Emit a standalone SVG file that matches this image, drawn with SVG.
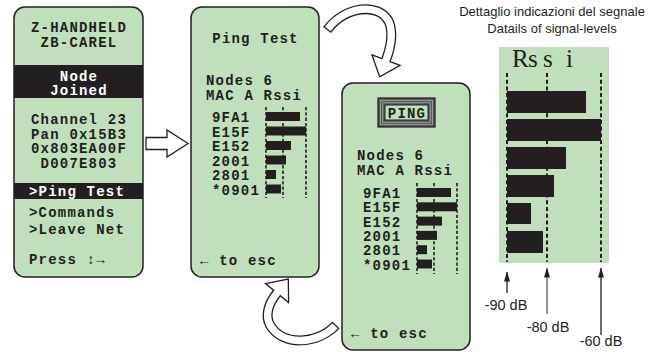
<svg xmlns="http://www.w3.org/2000/svg" width="667" height="352" viewBox="0 0 667 352">
<style>
.panel{fill:#c0e0bc;stroke:#231f20;stroke-width:1.5}
.m{font-family:"Liberation Mono","Courier New",monospace;font-weight:bold;font-size:14px;letter-spacing:1.2px;fill:#231f20}
.w{fill:#fff}
.c{text-anchor:middle}
.blk{fill:#231f20}
.dash{stroke:#231f20;stroke-width:1.6;stroke-dasharray:3.3 2;fill:none}
.dashL{stroke:#231f20;stroke-width:2;stroke-dasharray:4 2.7;fill:none}
.s{font-family:"Liberation Sans",Arial,sans-serif;fill:#231f20;text-anchor:middle}
.hollow{fill:#fff;stroke:#231f20;stroke-width:1.3;stroke-linejoin:miter}
.bandO{fill:none;stroke:#231f20;stroke-width:10}
.bandI{fill:none;stroke:#fff;stroke-width:7.4}
.ln{stroke:#231f20;stroke-width:1.3;fill:none;marker-end:url(#ah)}
</style>
<defs>
<marker id="ah" viewBox="0 0 10 6" refX="9.5" refY="3" markerWidth="10" markerHeight="6" markerUnits="userSpaceOnUse" orient="auto">
<path d="M0,0 L10,3 L0,6 z" fill="#231f20"/>
</marker>
</defs>

<g id="panel-main">
<rect class="panel" x="14" y="7" width="129" height="270" rx="11"/>
<text class="m c" x="79" y="32">Z-HANDHELD</text>
<text class="m c" x="79" y="47">ZB-CAREL</text>
<rect class="blk" x="14" y="65" width="129" height="33"/>
<text class="m c w" x="79" y="80.5">Node</text>
<text class="m c w" x="79" y="94.5">Joined</text>
<text class="m c" x="79" y="124">Channel 23</text>
<text class="m c" x="79" y="138.5">Pan 0x15B3</text>
<text class="m c" x="79" y="153">0x803EA00F</text>
<text class="m c" x="79" y="167.5">D007E803</text>
<rect class="blk" x="14" y="183" width="129" height="16"/>
<text class="m w" x="29" y="195.5">&gt;Ping Test</text>
<text class="m" x="29" y="217">&gt;Commands</text>
<text class="m" x="29" y="234">&gt;Leave Net</text>
<text class="m" x="29" y="264">Press ↕→</text>
</g>

<g id="panel-ping-test">
<rect class="panel" x="191" y="7" width="128" height="270" rx="11"/>
<text class="m c" x="255.5" y="43">Ping Test</text>
<text class="m" x="206" y="85">Nodes 6</text>
<text class="m" x="206" y="100">MAC A Rssi</text>
<text class="m" x="212" y="122">9FA1</text>
<text class="m" x="212" y="136.5">E15F</text>
<text class="m" x="212" y="151">E152</text>
<text class="m" x="212" y="165.5">2001</text>
<text class="m" x="212" y="180">2801</text>
<text class="m" x="212" y="194.5">*0901</text>
<rect class="blk" x="266" y="112" width="34" height="9"/>
<rect class="blk" x="266" y="126.5" width="40" height="9"/>
<rect class="blk" x="266" y="141" width="25" height="9"/>
<rect class="blk" x="266" y="155.5" width="20" height="9"/>
<rect class="blk" x="266" y="170" width="10" height="9"/>
<rect class="blk" x="266" y="184.5" width="15" height="9"/>
<path class="dash" d="M266,107V198M283,107V198M306,107V198"/>
<text class="m" x="200" y="265">← to esc</text>
</g>

<g id="panel-ping">
<rect class="panel" x="342" y="83" width="128" height="267" rx="11"/>
<rect x="378" y="98" width="57" height="29" fill="#58595b" stroke="#231f20" stroke-width="1.2"/>
<rect x="380.5" y="100.5" width="52" height="24" fill="none" stroke="#a7a9ac" stroke-width="0.8"/>
<rect x="382.7" y="102.7" width="47.6" height="19.6" fill="none" stroke="#a7a9ac" stroke-width="0.8"/>
<rect x="385" y="105" width="43" height="15" fill="#c0e0bc" stroke="#231f20" stroke-width="1"/>
<text class="m c" x="407" y="117.5">PING</text>
<text class="m" x="357" y="160">Nodes 6</text>
<text class="m" x="357" y="175">MAC A Rssi</text>
<text class="m" x="363" y="198">9FA1</text>
<text class="m" x="363" y="212.3">E15F</text>
<text class="m" x="363" y="226.6">E152</text>
<text class="m" x="363" y="240.9">2001</text>
<text class="m" x="363" y="255.2">2801</text>
<text class="m" x="363" y="269.5">*0901</text>
<rect class="blk" x="417" y="188" width="34" height="9"/>
<rect class="blk" x="417" y="202.3" width="40" height="9"/>
<rect class="blk" x="417" y="216.6" width="25" height="9"/>
<rect class="blk" x="417" y="230.9" width="20" height="9"/>
<rect class="blk" x="417" y="245.2" width="10" height="9"/>
<rect class="blk" x="417" y="259.5" width="15" height="9"/>
<path class="dash" d="M417,183V274M434,183V274M457,183V274"/>
<text class="m" x="351" y="338">← to esc</text>
</g>

<g id="rssi-detail">
<text class="s" x="552" y="15.5" font-size="13">Dettaglio indicazioni del segnale</text>
<text class="s" x="552" y="32.5" font-size="13">Datails of signal-levels</text>
<rect x="499" y="47" width="110" height="216" fill="#c0e0bc"/>
<text x="512 528 543 566" y="67" font-family="'Liberation Serif',serif" font-size="25" fill="#231f20">Rssi</text>
<rect class="blk" x="507" y="91" width="79" height="22"/>
<rect class="blk" x="507" y="119" width="94" height="22"/>
<rect class="blk" x="507" y="147" width="59" height="22"/>
<rect class="blk" x="507" y="175" width="47" height="22"/>
<rect class="blk" x="507" y="203" width="24" height="21"/>
<rect class="blk" x="507" y="231" width="36" height="22"/>
<path class="dashL" d="M507,73V262M547,73V262M601,73V262"/>
<path class="ln" d="M507,293V272"/>
<path class="ln" d="M547,314V268" style="stroke:#58595b"/>
<path class="ln" d="M601,335V268"/>
<text class="s" x="506" y="310" font-size="14.5">-90 dB</text>
<text class="s" x="548" y="332" font-size="14.5">-80 dB</text>
<text class="s" x="601" y="346" font-size="14.5">-60 dB</text>
</g>

<g id="connectors">
<polygon class="hollow" points="146,137.5 167,137.5 167,130 188,143.5 167,157 167,149.5 146,149.5"/>
<path class="bandO" d="M327,30 C345,6 379,2 389,22 C393,32 392,44 386,60"/>
<polygon class="hollow" points="371.9,54.8 379.7,76.9 400.1,65.3"/>
<path class="bandI" d="M327.8,29 C345,6 379,2 389,22 C393,32 392,44 386,60 L385,62.8"/>
<path class="bandO" d="M336,325 C318,344 283,347 270,325 C265,316 268,304 277,293"/>
<polygon class="hollow" points="265.5,283.6 288.3,279.1 288.6,302.5"/>
<path class="bandI" d="M335.1,325.9 C318,344 283,347 270,325 C265,316 268,304 277,293 L278.9,290.7"/>
</g>
</svg>
